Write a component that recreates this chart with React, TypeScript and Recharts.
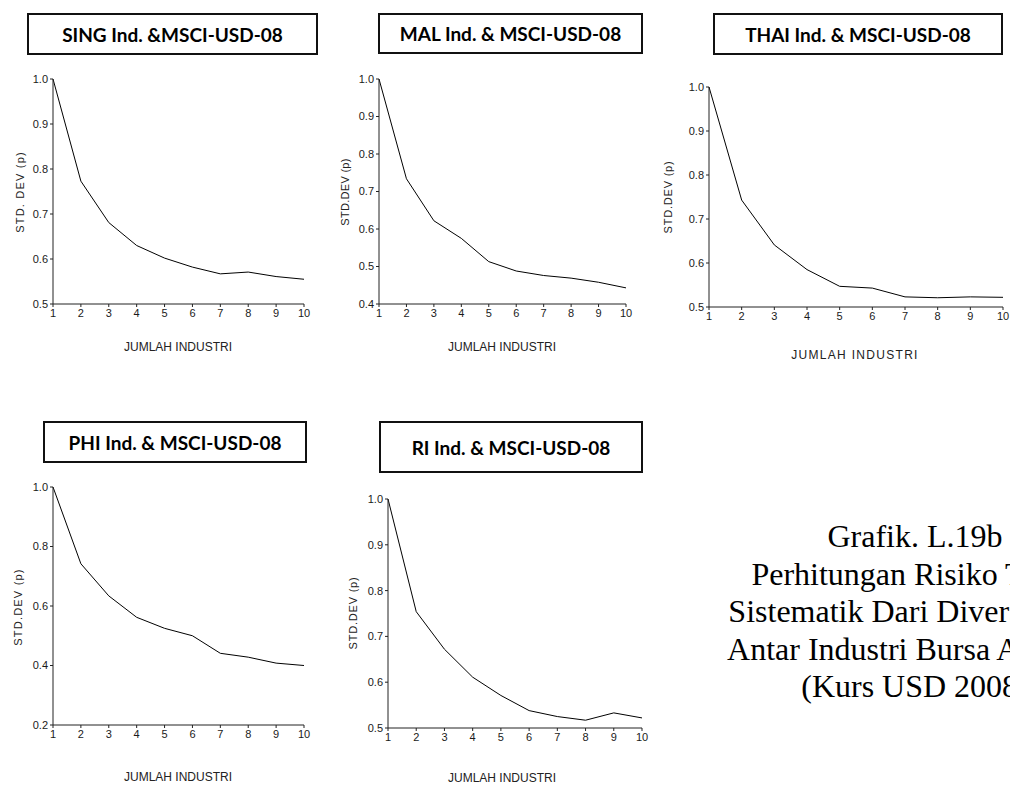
import React from "react"
import { LineChart, Line, XAxis, YAxis } from "recharts"

// jumlah industri di sumbu X
const industries = [1, 2, 3, 4, 5, 6, 7, 8, 9, 10]

// std. dev portofolio per negara
const singValues = [1.0, 0.773, 0.681, 0.63, 0.602, 0.582, 0.567, 0.571, 0.561, 0.555]
const malValues = [1.0, 0.734, 0.622, 0.575, 0.513, 0.488, 0.476, 0.469, 0.458, 0.443]
const thaiValues = [1.0, 0.743, 0.641, 0.585, 0.547, 0.543, 0.523, 0.521, 0.523, 0.522]
const phiValues = [1.0, 0.742, 0.634, 0.562, 0.525, 0.5, 0.441, 0.428, 0.408, 0.4]
const riValues = [1.0, 0.754, 0.672, 0.611, 0.571, 0.538, 0.525, 0.517, 0.533, 0.522]

const ticksFrom05 = [0.5, 0.6, 0.7, 0.8, 0.9, 1.0]
const ticksFrom04 = [0.4, 0.5, 0.6, 0.7, 0.8, 0.9, 1.0]
const ticksFrom02 = [0.2, 0.4, 0.6, 0.8, 1.0]

const captionLines = [
    "Grafik. L.19b",
    "Perhitungan Risiko Tidak",
    "Sistematik Dari Diversifikasi",
    "Antar Industri Bursa ASEAN",
    "(Kurs USD 2008)",
]

const SANS = "'Liberation Sans', Arial, sans-serif"

// margins around the plot area inside each LineChart
const ML = 40
const MT = 10
const MR = 10
const MB = 25

type Rect = { x: number; y: number; w: number; h: number }

interface PanelProps {
    title: string
    values: number[]
    yTicks: number[]
    yTitle: string
    plot: Rect
    box: Rect
    xTitleAt: [number, number]
    yTitleAt: [number, number]
    xSpacing?: number
    ySpacing?: number
}

function Panel({ title, values, yTicks, yTitle, plot, box, xTitleAt, yTitleAt, xSpacing = 0, ySpacing = 0.6 }: PanelProps) {
    const data = industries.map((n, i) => ({ n, v: values[i] }))
    const yDomain = [yTicks[0], yTicks[yTicks.length - 1]]
    const tickStyle = { fontSize: 11, fill: "#1a1a1a", fontFamily: SANS }

    return (
        <>
            <div
                style={{
                    position: "absolute",
                    left: box.x,
                    top: box.y,
                    width: box.w,
                    height: box.h,
                    border: "2px solid #111",
                    boxSizing: "border-box",
                    display: "flex",
                    alignItems: "center",
                    justifyContent: "center",
                    fontFamily: "Lato, 'Open Sans', sans-serif",
                    fontWeight: 700,
                    fontSize: 19,
                    color: "#000",
                    whiteSpace: "nowrap",
                }}
            >
                {title}
            </div>

            <div style={{ position: "absolute", left: plot.x - ML, top: plot.y - MT }}>
                <LineChart
                    width={plot.w + ML + MR}
                    height={plot.h + MT + MB}
                    data={data}
                    margin={{ top: MT, right: MR, left: 0, bottom: 0 }}
                >
                    <XAxis
                        dataKey="n"
                        type="number"
                        domain={[1, 10]}
                        ticks={industries}
                        interval={0}
                        height={MB}
                        tickSize={3}
                        tickMargin={2}
                        axisLine={{ stroke: "#222" }}
                        tickLine={{ stroke: "#222" }}
                        tick={tickStyle}
                    />
                    <XAxis
                        xAxisId="top"
                        orientation="top"
                        dataKey="n"
                        type="number"
                        domain={[1, 10]}
                        height={0}
                        tick={false}
                        tickLine={false}
                        axisLine={{ stroke: "#444" }}
                    />
                    <YAxis
                        type="number"
                        domain={yDomain}
                        ticks={yTicks}
                        interval={0}
                        width={ML}
                        tickSize={3}
                        tickMargin={2}
                        allowDataOverflow
                        axisLine={{ stroke: "#222" }}
                        tickLine={{ stroke: "#222" }}
                        tick={tickStyle}
                        tickFormatter={(v: number) => v.toFixed(1)}
                    />
                    <YAxis
                        yAxisId="right"
                        orientation="right"
                        type="number"
                        domain={yDomain}
                        width={0}
                        tick={false}
                        tickLine={false}
                        axisLine={{ stroke: "#444" }}
                    />
                    <Line
                        type="linear"
                        dataKey="v"
                        stroke="#000"
                        strokeWidth={1}
                        dot={false}
                        isAnimationActive={false}
                    />
                </LineChart>
            </div>

            <div
                style={{
                    position: "absolute",
                    left: xTitleAt[0],
                    top: xTitleAt[1],
                    transform: "translate(-50%, -50%)",
                    fontFamily: SANS,
                    fontSize: 12,
                    letterSpacing: xSpacing,
                    color: "#222",
                    whiteSpace: "nowrap",
                }}
            >
                JUMLAH INDUSTRI
            </div>

            <div
                style={{
                    position: "absolute",
                    left: yTitleAt[0],
                    top: yTitleAt[1],
                    transform: "translate(-50%, -50%) rotate(-90deg)",
                    fontFamily: SANS,
                    fontSize: 11,
                    letterSpacing: ySpacing,
                    color: "#222",
                    whiteSpace: "nowrap",
                }}
            >
                {yTitle}
            </div>
        </>
    )
}

export default function App() {
    return (
        <div
            style={{
                position: "absolute",
                left: 0,
                top: 0,
                width: 1010,
                height: 785,
                overflow: "hidden",
                background: "#fff",
            }}
        >
            <Panel
                title="SING Ind. &MSCI-USD-08"
                values={singValues}
                yTicks={ticksFrom05}
                yTitle="STD. DEV (p)"
                plot={{ x: 53, y: 79, w: 251, h: 225 }}
                box={{ x: 27, y: 13, w: 291, h: 42 }}
                xTitleAt={[178, 347]}
                yTitleAt={[20, 192]}
                ySpacing={1.2}
            />
            <Panel
                title="MAL Ind. & MSCI-USD-08"
                values={malValues}
                yTicks={ticksFrom04}
                yTitle="STD.DEV (p)"
                plot={{ x: 379, y: 79, w: 247, h: 225 }}
                box={{ x: 378, y: 13, w: 265, h: 41 }}
                xTitleAt={[502, 347]}
                yTitleAt={[345, 192]}
                ySpacing={0.3}
            />
            <Panel
                title="THAI Ind. & MSCI-USD-08"
                values={thaiValues}
                yTicks={ticksFrom05}
                yTitle="STD.DEV (p)"
                plot={{ x: 709, y: 87, w: 294, h: 220 }}
                box={{ x: 713, y: 13, w: 290, h: 42 }}
                xTitleAt={[855, 355]}
                yTitleAt={[668, 197]}
                xSpacing={1.3}
                ySpacing={0.8}
            />
            <Panel
                title="PHI Ind. & MSCI-USD-08"
                values={phiValues}
                yTicks={ticksFrom02}
                yTitle="STD.DEV (p)"
                plot={{ x: 53, y: 487, w: 251, h: 238 }}
                box={{ x: 43, y: 421, w: 264, h: 42 }}
                xTitleAt={[178, 777]}
                yTitleAt={[18, 607]}
                ySpacing={1.2}
            />
            <Panel
                title="RI Ind. & MSCI-USD-08"
                values={riValues}
                yTicks={ticksFrom05}
                yTitle="STD.DEV (p)"
                plot={{ x: 388, y: 499, w: 254, h: 229 }}
                box={{ x: 379, y: 421, w: 264, h: 52 }}
                xTitleAt={[502, 778]}
                yTitleAt={[353, 613]}
                ySpacing={0.8}
            />

            {/* caption runs past the right edge, as in the scanned page */}
            <div
                style={{
                    position: "absolute",
                    left: 715,
                    top: 518,
                    width: 400,
                    textAlign: "center",
                    fontFamily: "'Liberation Serif', 'Times New Roman', serif",
                    fontSize: 32,
                    lineHeight: "37.5px",
                    color: "#000",
                    whiteSpace: "nowrap",
                }}
            >
                {captionLines.map((line) => (
                    <div key={line}>{line}</div>
                ))}
            </div>
        </div>
    )
}
